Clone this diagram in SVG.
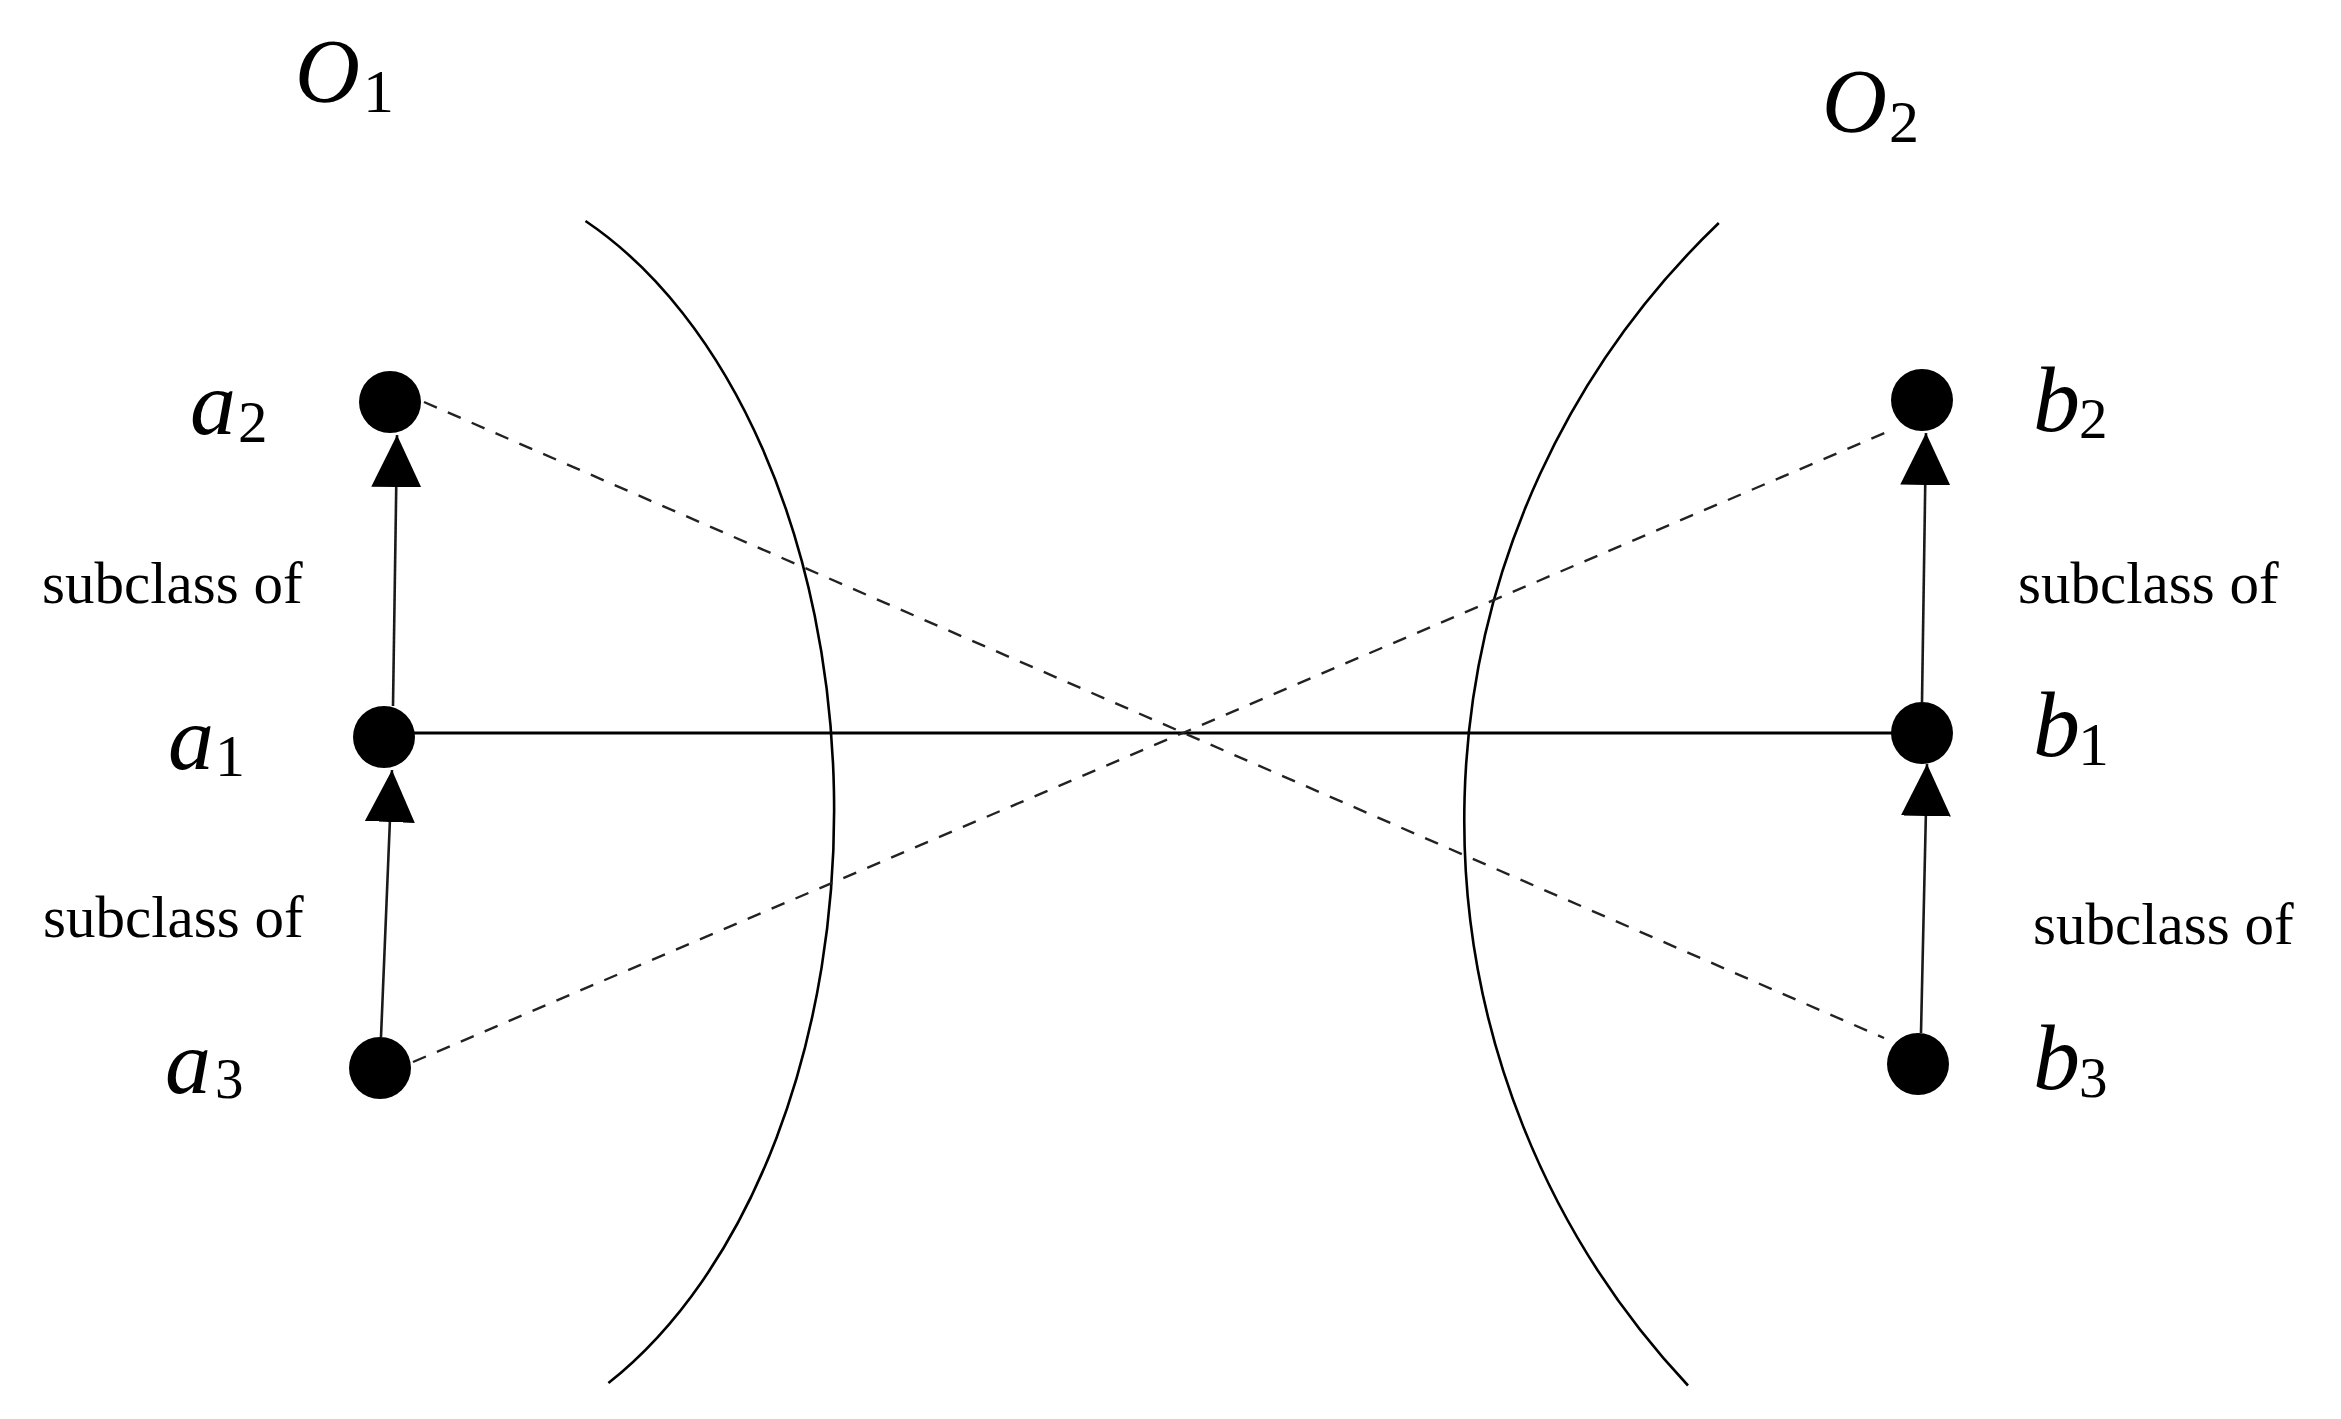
<svg xmlns="http://www.w3.org/2000/svg" width="2341" height="1419" viewBox="0 0 2341 1419">
<style>
  .bg { fill: #ffffff; }
  .arc { fill: none; stroke: #000000; stroke-width: 2.6; }
  .node { fill: #000000; }
  .sub { stroke: #1a1a1a; stroke-width: 2.6; fill: none; }
  .link { stroke: #000000; stroke-width: 3; fill: none; }
  .dash { stroke: #222222; stroke-width: 2.4; fill: none; stroke-dasharray: 14 12; }
  .var { font-family: "Liberation Serif", "Times New Roman", serif; font-style: italic; fill: #000000; }
  .idx { font-family: "Liberation Serif", "Times New Roman", serif; font-style: normal; fill: #000000; }
  .lbl { font-family: "Liberation Serif", "Times New Roman", serif; font-size: 59px; fill: #000000; }
</style>
<defs>
  <marker id="tri" viewBox="0 0 52 50" refX="52" refY="25" markerWidth="52" markerHeight="50" markerUnits="userSpaceOnUse" orient="auto">
    <path d="M0,0 L52,25 L0,50 Z" fill="#000000"/>
  </marker>
</defs>
<rect class="bg" x="0" y="0" width="2341" height="1419"/>

<g id="ontology-O1">
  <path class="arc" d="M585.5,221 A412,642 0 0 1 608.4,1383"/>
  <text class="var" x="295" y="102" font-size="90">O<tspan class="idx" x="363" y="112" font-size="62">1</tspan></text>
</g>
<g id="ontology-O2">
  <path class="arc" d="M1718.8,223 A827,827 0 0 0 1688,1385.5"/>
  <text class="var" x="1822" y="132" font-size="90">O<tspan class="idx" x="1889" y="142" font-size="60">2</tspan></text>
</g>

<g id="connectors">
  <line class="link" x1="414" y1="733" x2="1892" y2="733"/>
  <line class="dash" x1="424" y1="402" x2="1884" y2="1038"/>
  <line class="dash" x1="413" y1="1062" x2="1894" y2="429"/>
  <line class="sub" x1="381" y1="1037" x2="392" y2="770" marker-end="url(#tri)"/>
  <line class="sub" x1="393" y1="706" x2="397" y2="435" marker-end="url(#tri)"/>
  <line class="sub" x1="1922" y1="702" x2="1926" y2="433" marker-end="url(#tri)"/>
  <line class="sub" x1="1921" y1="1033" x2="1927" y2="764" marker-end="url(#tri)"/>
  <text class="lbl" x="42" y="603">subclass of</text>
  <text class="lbl" x="43" y="937">subclass of</text>
  <text class="lbl" x="2018" y="603">subclass of</text>
  <text class="lbl" x="2033" y="944">subclass of</text>
</g>

<g id="node-a2">
  <circle class="node" cx="390" cy="402" r="31"/>
  <text class="var" x="190" y="434" font-size="92">a<tspan class="idx" x="238" y="442" font-size="59">2</tspan></text>
</g>
<g id="node-a1">
  <circle class="node" cx="384" cy="737" r="31"/>
  <text class="var" x="168" y="769" font-size="92">a<tspan class="idx" x="215" y="776" font-size="60">1</tspan></text>
</g>
<g id="node-a3">
  <circle class="node" cx="380" cy="1068" r="31"/>
  <text class="var" x="165" y="1093" font-size="92">a<tspan class="idx" x="215" y="1098" font-size="57">3</tspan></text>
</g>
<g id="node-b2">
  <circle class="node" cx="1922" cy="400" r="31"/>
  <text class="var" x="2033" y="431" font-size="94">b<tspan class="idx" x="2079" y="438" font-size="57">2</tspan></text>
</g>
<g id="node-b1">
  <circle class="node" cx="1922" cy="733" r="31"/>
  <text class="var" x="2033" y="756" font-size="94">b<tspan class="idx" x="2078" y="765" font-size="62">1</tspan></text>
</g>
<g id="node-b3">
  <circle class="node" cx="1918" cy="1064" r="31"/>
  <text class="var" x="2033" y="1089" font-size="94">b<tspan class="idx" x="2079" y="1097" font-size="57">3</tspan></text>
</g>
</svg>
